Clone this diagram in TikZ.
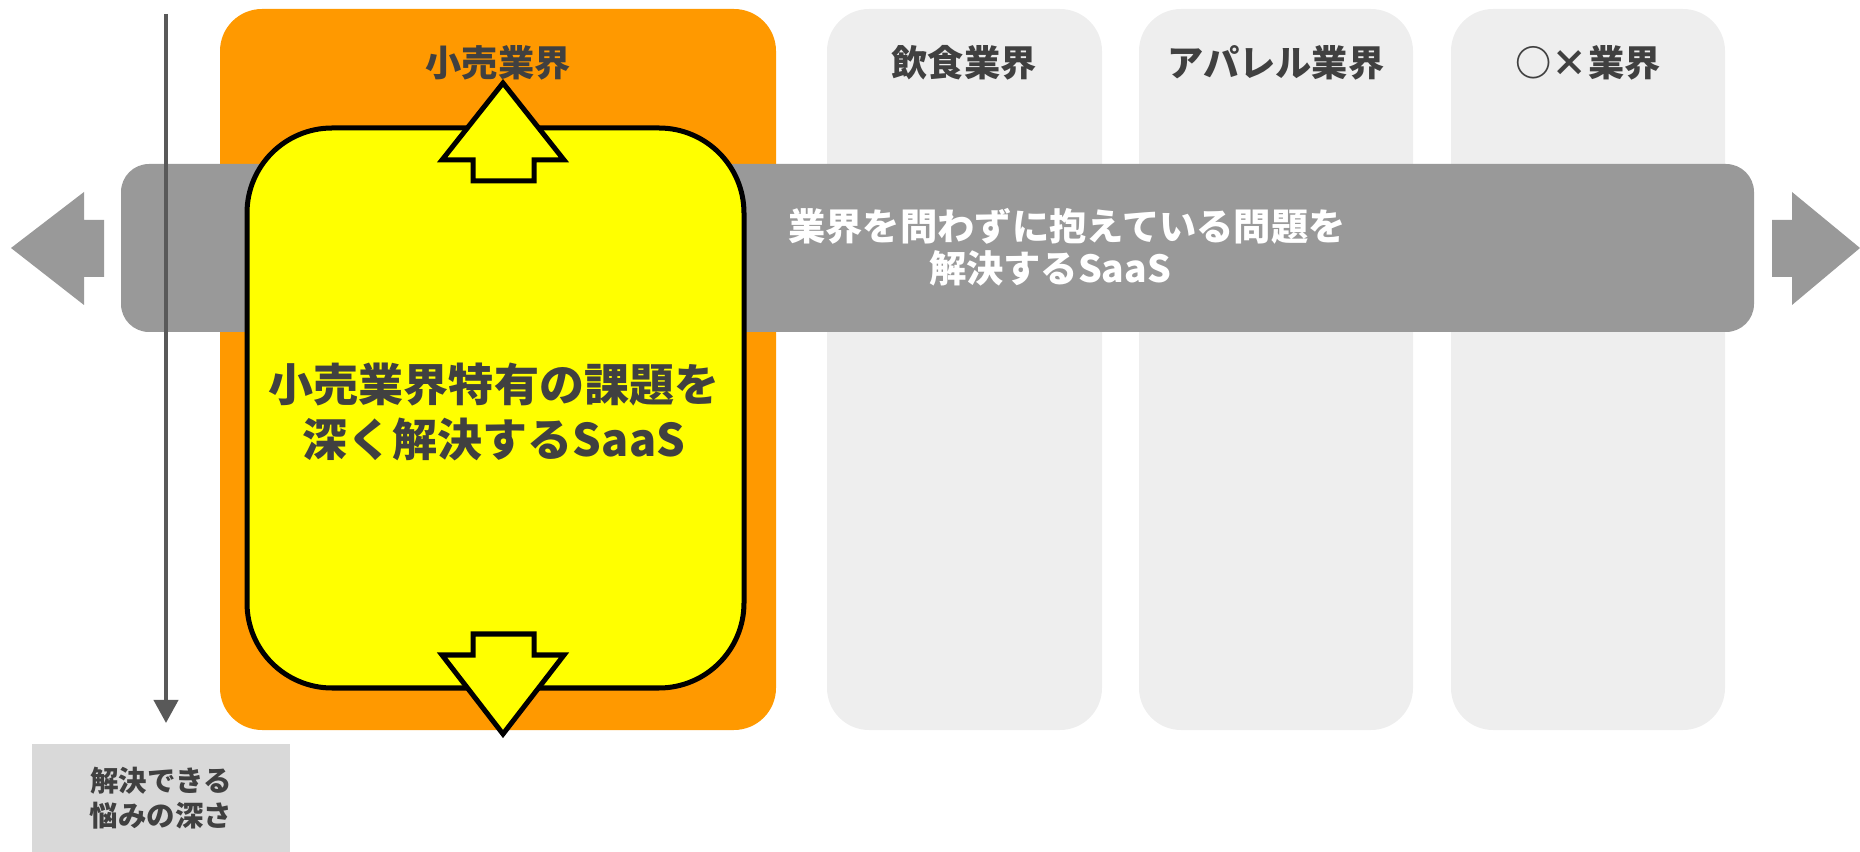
\documentclass[tikz,border=0pt]{standalone}
\usepackage{fontspec}
\setmainfont{Noto Sans CJK JP}
\usetikzlibrary{arrows.meta}
\definecolor{retailorange}{HTML}{FF9900}
\definecolor{colgray}{HTML}{EEEEEE}
\definecolor{bargray}{HTML}{999999}
\definecolor{axisgray}{HTML}{595959}
\definecolor{boxgray}{HTML}{D9D9D9}
\definecolor{inkgray}{HTML}{404040}
\definecolor{deepyellow}{HTML}{FFFF00}
\begin{document}
\begin{tikzpicture}[x=0.01cm,y=-0.01cm,
  coltitle/.style={font=\fontsize{10.3pt}{12pt}\selectfont\bfseries,text=inkgray},
  bartext/.style={font=\fontsize{10.6pt}{11.95pt}\selectfont\bfseries,text=white,align=center},
  deeptext/.style={font=\fontsize{12.8pt}{15.4pt}\selectfont\bfseries,text=inkgray,align=center},
  depthbox/.style={fill=boxgray,minimum width=2.57cm,minimum height=1.08cm,inner sep=0pt,
    font=\fontsize{8.1pt}{10pt}\selectfont\bfseries,text=inkgray,align=center},
  blockarrow/.style={fill=deepyellow,draw=black,line width=0.05cm}]
\useasboundingbox (0,0) rectangle (1860,852);

\fill[retailorange, rounded corners=0.42cm] (220,9) rectangle (776,730);
\fill[colgray, rounded corners=0.42cm] (827,9) rectangle (1102,730);
\fill[colgray, rounded corners=0.42cm] (1139,9) rectangle (1413,730);
\fill[colgray, rounded corners=0.42cm] (1451,9) rectangle (1725,730);

\fill[bargray, rounded corners=0.28cm] (121,164) rectangle (1754,332);
\fill[bargray] (11,248) -- (84,192) -- (84,220) -- (104,220) -- (104,277) -- (84,277) -- (84,305) -- cycle;
\fill[bargray] (1860,248) -- (1792,192) -- (1792,220) -- (1772,220) -- (1772,277) -- (1792,277) -- (1792,305) -- cycle;

\coordinate (axtop) at (166,14);
\coordinate (axbot) at (166,723);
\draw[axisgray, line width=0.04cm, -{Triangle[length=0.23cm,width=0.24cm]}] (axtop) -- (axbot);

\draw[fill=deepyellow, line width=0.05cm, rounded corners=0.85cm] (247,128) rectangle (744,688);
\draw[blockarrow] (503,83) -- (564,160) -- (534,160) -- (534,181) -- (473,181) -- (473,160) -- (442,160) -- cycle;
\draw[blockarrow] (503,734) -- (564,655) -- (534,655) -- (534,634) -- (473,634) -- (473,655) -- (442,655) -- cycle;

\node[coltitle] (retail) at (498,63) {小売業界};
\node[coltitle] (food) at (964,63) {飲食業界};
\node[coltitle] (apparel) at (1276,63) {アパレル業界};
\node[coltitle] (other) at (1588,63) {○×業界};

\node[bartext] (common) at (1067,247) {業界を問わずに抱えている問題を\\解決するSaaS\hspace*{0.34cm}};
\node[deeptext] (deep) at (494,412) {小売業界特有の課題を\\深く解決するSaaS};
\node[depthbox] (depth) at (161,798) {解決できる\\悩みの深さ};
\end{tikzpicture}
\end{document}
